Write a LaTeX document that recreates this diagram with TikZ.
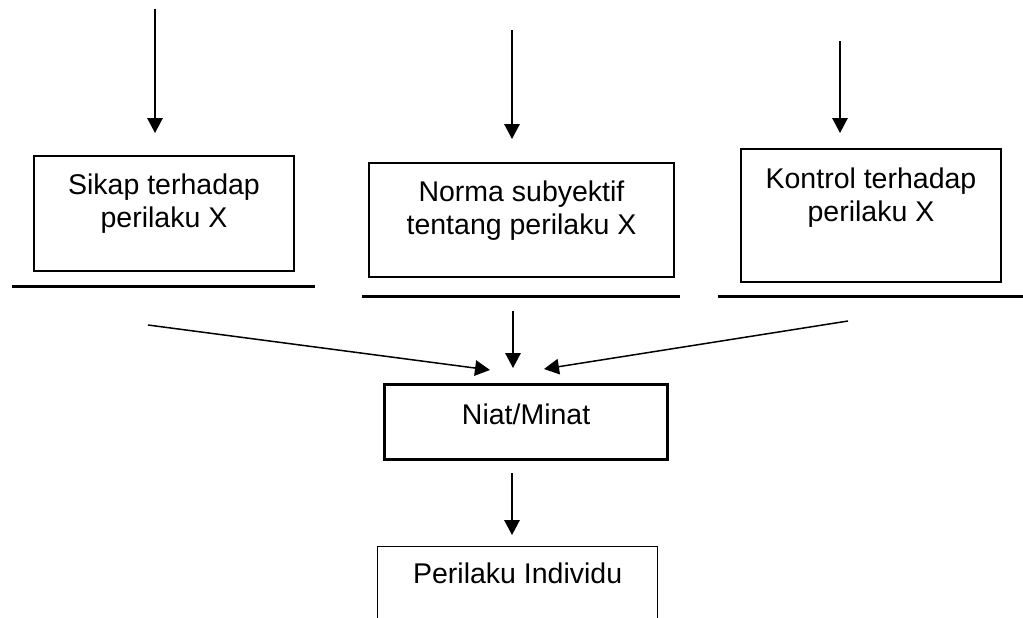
\documentclass[tikz,border=0pt]{standalone}
\usepackage{fontspec}
\setmainfont{Liberation Sans}
\usetikzlibrary{arrows.meta}
\newcommand{\isi}[2]{\parbox[t]{#1}{\centering #2}}

\begin{document}
\begin{tikzpicture}[x=0.5pt, y=-0.5pt,
    kotak/.style={draw, line width=1pt, inner sep=0pt, anchor=north west,
        font=\fontsize{14.25pt}{16.7pt}\selectfont},
    panah/.style={-{Triangle[length=7.5pt,width=7.75pt]}, line width=0.75pt},
    garis/.style={line width=1.5pt}]
    \useasboundingbox (0,0) rectangle (1023,617);
    \clip (0,0) rectangle (1023,617);
    % three boxes
    \node[kotak, text height=19pt, text depth=38.5pt] (sikap) at (33,155) {\isi{130pt}{Sikap terhadap\\perilaku X}};
    \node[kotak, text height=19pt, text depth=38pt] (norma) at (368,162) {\isi{152.5pt}{Norma subyektif\\tentang perilaku X}};
    \node[kotak, text height=19.5pt, text depth=47pt] (kontrol) at (740,148) {\isi{130pt}{Kontrol terhadap\\perilaku X}};
    \node[kotak, line width=1.6pt, text height=20pt, text depth=17.5pt] (niat) at (383,383) {\isi{141.5pt}{Niat/Minat}};
    \node[kotak, line width=0.65pt, text height=18.5pt, text depth=40pt] (perilaku) at (377,546) {\isi{140pt}{Perilaku Individu}};
    % lines under the boxes
    \draw[garis] (12,286) -- (315,286);
    \draw[garis] (362,296) -- (680,296);
    \draw[garis] (718,296) -- (1023,296);
    % arrows
    \coordinate (masuk1) at (155,9);
    \coordinate (masuk2) at (512,30);
    \coordinate (masuk3) at (840,41);
    \draw[panah, shorten >=11pt] (masuk1) -- (masuk1 |- sikap.north);
    \draw[panah, shorten >=11.5pt] (masuk2) -- (masuk2 |- norma.north);
    \draw[panah, shorten >=7.5pt] (masuk3) -- (masuk3 |- kontrol.north);
    \coordinate (dari1) at (148,325);
    \coordinate (ke1) at (490,370);
    \coordinate (dari2) at (513,311);
    \coordinate (dari3) at (848,321);
    \coordinate (ke3) at (544,369);
    \coordinate (keluar) at (512,473);
    \draw[panah] (dari1) -- (ke1);
    \draw[panah, shorten >=7.5pt] (dari2) -- (dari2 |- niat.north);
    \draw[panah] (dari3) -- (ke3);
    \draw[panah, shorten >=5.5pt] (keluar) -- (keluar |- perilaku.north);
\end{tikzpicture}
\end{document}
